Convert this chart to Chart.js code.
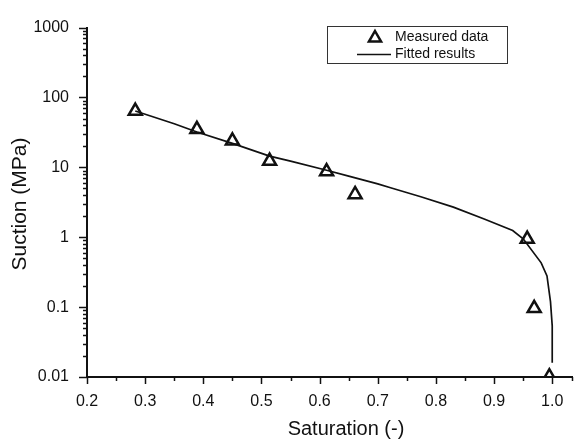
<!DOCTYPE html>
<html>
<head>
<meta charset="utf-8">
<script src="https://cdn.jsdelivr.net/npm/chart.js@4.4.0/dist/chart.umd.min.js"></script>
<style>
  html, body { margin: 0; padding: 0; background: #fff; }
</style>
</head>
<body>
<canvas id="suctionChart" width="583" height="441"></canvas>
<script>
// measured points (saturation, suction in MPa)
const measuredSat = [0.283, 0.389, 0.450, 0.514, 0.612, 0.661, 0.957, 0.969, 0.995];
const measuredSuction = [64, 35, 24, 12.3, 8.7, 4.1, 0.94, 0.096, 0.0101];

// fitted curve
const fittedSat = [0.283, 0.35, 0.389, 0.45, 0.514, 0.55, 0.612, 0.65, 0.70, 0.722, 0.774, 0.83, 0.883, 0.932, 0.95, 0.981, 0.991, 0.997, 1.0, 1.0];
const fittedSuction = [64, 42, 32, 22, 14.5, 12.3, 9.1, 7.5, 5.8, 5.1, 3.8, 2.7, 1.82, 1.25, 0.95, 0.43, 0.28, 0.12, 0.054, 0.016];

const xTicks = [0.2, 0.3, 0.4, 0.5, 0.6, 0.7, 0.8, 0.9, 1.0];
const xMinorTicks = [0.25, 0.35, 0.45, 0.55, 0.65, 0.75, 0.85, 0.95, 1.034];
const yTicks = [0.01, 0.1, 1, 10, 100, 1000];
const yMinorFactors = [2, 3, 4, 5, 6, 7, 8, 9];

const xTitle = "Saturation (-)";
const yTitle = "Suction (MPa)";

const FONT = "'Liberation Sans', Arial, Helvetica, sans-serif";
const INK = "#111";

function fmtLog(v) {
    const e = Math.round(Math.log10(v));
    return e >= 0 ? String(Math.pow(10, e)) : Math.pow(10, e).toFixed(-e);
}

// ticks, axis titles and framed legend
const decorPlugin = {
    id: "decor",
    afterDraw(chart) {
        const ctx = chart.ctx;
        const xs = chart.scales.x;
        const ys = chart.scales.y;
        const area = chart.chartArea;
        ctx.save();
        ctx.strokeStyle = INK;
        ctx.lineWidth = 1.5;

        // y ticks (outward, left)
        yTicks.forEach(v => {
            const py = Math.round(ys.getPixelForValue(v)) + 0.5;
            ctx.beginPath(); ctx.moveTo(area.left - 8, py); ctx.lineTo(area.left, py); ctx.stroke();
        });
        for (let d = -2; d < 3; d++) {
            yMinorFactors.forEach(m => {
                const py = Math.round(ys.getPixelForValue(m * Math.pow(10, d))) + 0.5;
                ctx.beginPath(); ctx.moveTo(area.left - 4, py); ctx.lineTo(area.left, py); ctx.stroke();
            });
        }

        // x ticks (outward, down)
        xTicks.forEach(v => {
            const px = Math.round(xs.getPixelForValue(v)) + 0.5;
            ctx.beginPath(); ctx.moveTo(px, area.bottom); ctx.lineTo(px, area.bottom + 7); ctx.stroke();
        });
        xMinorTicks.forEach(v => {
            const px = Math.round(xs.getPixelForValue(v)) + 0.5;
            ctx.beginPath(); ctx.moveTo(px, area.bottom); ctx.lineTo(px, area.bottom + 4); ctx.stroke();
        });

        // axis titles
        ctx.fillStyle = INK;
        ctx.font = "20px " + FONT;
        ctx.textAlign = "center";
        ctx.textBaseline = "middle";
        ctx.fillText(xTitle, 346, 429);
        ctx.save();
        ctx.translate(20, 204);
        ctx.rotate(-Math.PI / 2);
        ctx.font = "21px " + FONT;
        ctx.fillText(yTitle, 0, 0);
        ctx.restore();

        // legend box
        ctx.lineWidth = 1;
        ctx.strokeStyle = "#333";
        ctx.strokeRect(327.5, 26.5, 180, 37);
        const ds = chart.data.datasets;
        ctx.lineWidth = 2.5;
        ctx.strokeStyle = INK;
        ctx.fillStyle = "rgba(0,0,0,0)";
        Chart.helpers.drawPoint(ctx, { pointStyle: "triangle", radius: 7, borderWidth: 2.5, rotation: 0 }, 375, 38);
        ctx.lineWidth = 1.6;
        ctx.beginPath(); ctx.moveTo(357, 54.5); ctx.lineTo(391, 54.5); ctx.stroke();
        ctx.fillStyle = INK;
        ctx.font = "14px " + FONT;
        ctx.textAlign = "left";
        ctx.fillText(ds[0].label, 395, 37);
        ctx.fillText(ds[1].label, 395, 54);
        ctx.restore();
    }
};

new Chart(document.getElementById("suctionChart"), {
    type: "scatter",
    data: {
        datasets: [
            {
                label: "Measured data",
                data: measuredSat.map((x, i) => ({ x: x, y: measuredSuction[i] })),
                showLine: false,
                pointStyle: "triangle",
                pointRadius: 7.5,
                pointHoverRadius: 7.5,
                pointBorderWidth: 2.5,
                pointBorderColor: INK,
                pointBackgroundColor: "rgba(0,0,0,0)",
                clip: 0,
                order: 0
            },
            {
                label: "Fitted results",
                data: fittedSat.map((x, i) => ({ x: x, y: fittedSuction[i] })),
                showLine: true,
                borderColor: INK,
                borderWidth: 1.7,
                pointRadius: 0,
                tension: 0,
                order: 1
            }
        ]
    },
    options: {
        responsive: false,
        animation: false,
        devicePixelRatio: 1,
        layout: { padding: { top: 16, right: 11, left: 0, bottom: 0 } },
        plugins: {
            legend: { display: false },
            tooltip: { enabled: false }
        },
        scales: {
            x: {
                type: "linear",
                min: 0.2,
                max: 1.034,
                afterBuildTicks: s => { s.ticks = xTicks.map(v => ({ value: v })); },
                afterFit: s => { s.height = 64; },
                grid: { display: true, drawOnChartArea: false, drawTicks: false },
                border: { display: true, color: INK, width: 2 },
                ticks: {
                    padding: 15,
                    color: INK,
                    font: { family: FONT, size: 16 },
                    callback: v => Number(v).toFixed(1)
                }
            },
            y: {
                type: "logarithmic",
                min: 0.01,
                max: 1000,
                afterBuildTicks: s => { s.ticks = yTicks.map(v => ({ value: v })); },
                afterFit: s => { s.width = 87; },
                grid: { display: true, drawOnChartArea: false, drawTicks: false },
                border: { display: true, color: INK, width: 2 },
                ticks: {
                    padding: 18,
                    color: INK,
                    font: { family: FONT, size: 16 },
                    callback: v => fmtLog(v)
                }
            }
        }
    },
    plugins: [decorPlugin]
});
</script>
</body>
</html>
